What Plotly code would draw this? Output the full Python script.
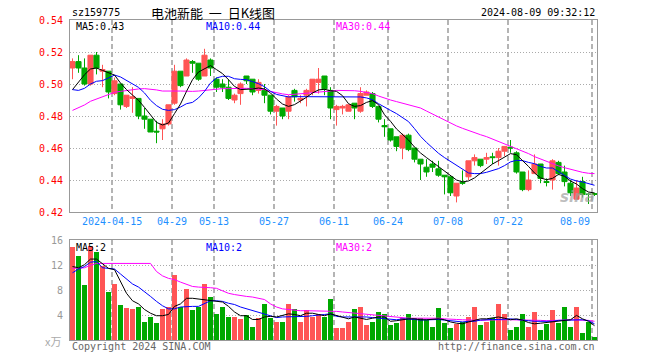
import plotly.graph_objects as go

# ---------------- data ----------------
open_ = [0.510,0.514,0.510,0.500,0.518,0.508,0.508,0.494,0.500,0.486,
         0.491,0.491,0.480,0.478,0.4705,0.472,0.475,0.488,0.508,0.505,
         0.514,0.513,0.505,0.515,0.503,0.500,0.498,0.490,0.494,0.505,
         0.503,0.496,0.496,0.493,0.483,0.485,0.483,0.496,0.490,0.493,
         0.495,0.501,0.505,0.496,0.484,0.485,0.483,0.488,0.483,0.493,
         0.494,0.486,0.474,0.472,0.467,0.460,0.468,0.460,0.453,0.448,
         0.450,0.447,0.443,0.442,0.430,0.4385,0.442,0.452,0.453,0.453,
         0.4545,0.454,0.458,0.4605,0.457,0.445,0.434,0.444,0.450,0.439,
         0.440,0.451,0.445,0.438,0.428,0.439,0.4312,0.4315]
high = [0.516,0.518,0.516,0.518,0.520,0.512,0.508,0.504,0.500,0.493,
        0.498,0.491,0.485,0.478,0.477,0.478,0.487,0.512,0.508,0.516,
        0.515,0.513,0.522,0.516,0.504,0.503,0.503,0.494,0.501,0.505,
        0.503,0.503,0.500,0.493,0.487,0.485,0.493,0.497,0.493,0.497,
        0.503,0.510,0.505,0.498,0.487,0.487,0.487,0.488,0.498,0.496,
        0.495,0.486,0.478,0.472,0.467,0.469,0.469,0.460,0.453,0.453,
        0.452,0.452,0.443,0.442,0.438,0.446,0.452,0.456,0.453,0.457,
        0.457,0.460,0.461,0.465,0.458,0.445,0.446,0.456,0.450,0.441,
        0.453,0.452,0.449,0.440,0.440,0.442,0.432,0.432]
low = [0.503,0.507,0.499,0.499,0.506,0.498,0.491,0.493,0.484,0.485,
       0.482,0.478,0.472,0.470,0.463,0.465,0.474,0.487,0.498,0.505,
       0.507,0.502,0.505,0.505,0.495,0.495,0.490,0.488,0.487,0.500,
       0.493,0.494,0.488,0.481,0.474,0.478,0.478,0.489,0.488,0.486,
       0.493,0.494,0.493,0.478,0.474,0.481,0.483,0.478,0.482,0.493,
       0.485,0.476,0.467,0.464,0.458,0.453,0.458,0.451,0.440,0.442,
       0.445,0.442,0.431,0.430,0.426,0.437,0.440,0.449,0.448,0.450,
       0.450,0.449,0.455,0.457,0.444,0.433,0.433,0.444,0.438,0.436,
       0.434,0.443,0.436,0.430,0.428,0.429,0.425,0.430]
close = [0.514,0.510,0.500,0.518,0.510,0.509,0.495,0.502,0.487,0.493,
         0.492,0.480,0.478,0.470,0.470,0.475,0.487,0.508,0.499,0.515,
         0.513,0.503,0.518,0.510,0.498,0.498,0.491,0.493,0.500,0.502,
         0.495,0.501,0.493,0.483,0.486,0.480,0.492,0.492,0.491,0.496,
         0.503,0.503,0.497,0.485,0.486,0.486,0.487,0.485,0.494,0.495,
         0.486,0.478,0.4733,0.465,0.461,0.468,0.459,0.453,0.450,0.445,
         0.448,0.443,0.442,0.432,0.438,0.438,0.452,0.454,0.449,0.454,
         0.454,0.458,0.461,0.460,0.445,0.434,0.440,0.450,0.441,0.4385,
         0.452,0.444,0.439,0.432,0.435,0.431,0.431,0.431]

ma5 = [0.4965,0.5013,0.5058,0.5094,0.5100,0.5085,0.5071,0.5056,0.5006,0.4965,
       0.4931,0.4898,0.4854,0.4808,0.4760,0.4744,0.4756,0.4815,0.4875,0.4954,
       0.5027,0.5075,0.5094,0.5115,0.5090,0.5065,0.5027,0.4985,0.4965,0.4965,
       0.4969,0.4975,0.4969,0.4944,0.4906,0.4875,0.4860,0.4871,0.4892,0.4917,
       0.4944,0.4963,0.4967,0.4958,0.4954,0.4927,0.4877,0.4860,0.4865,0.4885,
       0.4896,0.4871,0.4808,0.4767,0.4719,0.4683,0.4650,0.4606,0.4569,0.4540,
       0.4512,0.4483,0.4456,0.4425,0.4400,0.4388,0.4394,0.4413,0.4444,0.4473,
       0.4500,0.4521,0.4542,0.4565,0.4558,0.4523,0.4485,0.4444,0.4413,0.4402,
       0.4410,0.4435,0.4423,0.4394,0.4375,0.4346,0.4325,0.4319]
ma10 = [0.4965,0.4960,0.4973,0.5000,0.5017,0.5021,0.5038,0.5056,0.5044,0.5023,
        0.5000,0.4979,0.4944,0.4898,0.4865,0.4842,0.4835,0.4840,0.4856,0.4877,
        0.4885,0.4913,0.4954,0.5006,0.5038,0.5048,0.5048,0.5033,0.5029,0.5027,
        0.5015,0.5002,0.4983,0.4954,0.4935,0.4925,0.4919,0.4921,0.4921,0.4921,
        0.4923,0.4923,0.4923,0.4921,0.4921,0.4919,0.4919,0.4919,0.4919,0.4913,
        0.4902,0.4877,0.4854,0.4835,0.4815,0.4790,0.4765,0.4721,0.4673,0.4635,
        0.4598,0.4567,0.4540,0.4515,0.4492,0.4467,0.4444,0.4440,0.4440,0.4448,
        0.4458,0.4471,0.4490,0.4513,0.4523,0.4521,0.4510,0.4502,0.4485,0.4475,
        0.4475,0.4454,0.4429,0.4406,0.4394,0.4388,0.4379,0.4367]
ma30 = [0.4835,0.4850,0.4869,0.4892,0.4906,0.4921,0.4935,0.4948,0.4954,0.4960,
        0.4965,0.4969,0.4971,0.4969,0.4963,0.4956,0.4954,0.4956,0.4956,0.4954,
        0.4954,0.4956,0.4960,0.4965,0.4969,0.4971,0.4971,0.4973,0.4973,0.4973,
        0.4971,0.4969,0.4965,0.4954,0.4944,0.4938,0.4933,0.4935,0.4938,0.4942,
        0.4946,0.4948,0.4952,0.4956,0.4960,0.4960,0.4960,0.4958,0.4954,0.4948,
        0.4940,0.4925,0.4910,0.4900,0.4890,0.4879,0.4869,0.4860,0.4850,0.4831,
        0.4812,0.4794,0.4775,0.4756,0.4738,0.4723,0.4708,0.4694,0.4683,0.4671,
        0.4656,0.4642,0.4627,0.4613,0.4598,0.4583,0.4565,0.4546,0.4531,0.4513,
        0.4498,0.4488,0.4477,0.4467,0.4456,0.4448,0.4442,0.4440]

volume = [14.8,13.5,8.7,15.0,14.1,11.8,7.7,8.9,5.5,5.0,
          4.9,5.3,2.9,3.6,2.6,4.9,5.3,10.3,5.3,8.1,
          4.7,5.2,9.0,6.9,4.1,5.2,3.7,3.6,3.3,3.9,
          2.1,3.4,5.8,3.4,2.9,2.8,5.8,4.9,2.9,4.7,
          3.6,4.1,3.6,6.5,1.8,1.8,2.8,4.9,5.3,2.3,
          2.8,4.4,4.1,2.3,2.6,3.4,4.1,3.4,3.4,3.1,
          2.0,5.0,2.6,1.8,2.5,2.9,3.7,5.2,2.3,2.9,
          3.4,5.7,4.1,1.5,2.1,4.1,2.1,4.4,1.5,2.5,
          4.7,2.6,5.3,2.1,5.3,1.0,2.8,0.4]
vma5 = [11.8,11.6,12.1,13.0,13.0,12.3,11.5,11.3,9.3,7.5,
        6.3,5.8,4.9,4.3,3.9,3.9,4.1,5.4,5.8,6.7,
        6.7,6.6,6.4,6.4,6.2,6.1,5.4,4.5,3.9,3.9,
        3.3,3.3,3.7,3.8,3.7,3.9,4.2,4.1,3.9,4.3,
        4.3,4.1,3.9,4.2,3.95,3.6,3.4,3.7,3.5,3.3,
        3.5,3.7,3.7,3.0,3.1,3.25,3.4,3.4,3.25,3.25,
        3.3,3.4,3.25,2.9,2.7,2.6,2.9,3.2,3.4,3.4,
        3.5,3.7,3.5,3.25,3.4,3.2,2.8,2.6,2.7,2.8,
        3.0,3.1,3.15,3.25,3.95,3.4,3.0,2.3]
vma10 = [10.8,11.4,11.8,12.5,12.6,11.6,11.5,11.4,10.6,9.8,
         9.0,8.5,7.8,7.0,6.2,5.5,5.0,5.0,5.3,5.4,
         5.4,5.4,5.8,6.3,6.3,6.2,5.9,5.7,5.3,5.0,
         4.7,4.5,4.2,3.9,3.6,3.7,3.7,3.7,3.7,3.8,
         3.9,4.05,4.1,4.2,3.8,3.7,3.7,3.8,3.8,3.7,
         3.6,3.5,3.5,3.4,3.25,3.4,3.4,3.3,3.2,3.25,
         3.3,3.3,3.2,3.1,3.0,2.9,3.0,3.0,3.2,3.3,
         3.3,3.3,3.4,3.4,3.3,3.25,3.1,3.0,3.0,3.0,
         3.0,3.15,3.2,3.25,3.3,3.25,3.1,2.6]
vma30 = [11.5,11.5,11.6,12.0,12.3,12.3,12.3,12.3,12.3,12.3,
         12.3,12.3,12.3,12.3,11.0,10.3,9.9,9.7,9.3,9.0,
         8.6,8.5,8.5,8.4,8.3,7.9,7.5,7.3,7.1,7.0,
         6.9,6.7,6.5,5.8,5.3,5.0,4.9,4.7,4.7,4.7,
         4.7,4.7,4.7,4.7,4.6,4.5,4.4,4.3,4.3,4.2,
         4.05,3.95,3.8,3.7,3.6,3.6,3.5,3.5,3.5,3.5,
         3.6,3.5,3.4,3.4,3.3,3.25,3.2,3.15,3.15,3.2,
         3.25,3.25,3.25,3.25,3.25,3.2,3.2,3.15,3.15,3.1,
         3.1,3.15,3.2,3.25,3.25,3.2,3.15,3.0]

date_labels = ["2024-04-15","04-29","05-13","05-27","06-11","06-24","07-08","07-22","08-09"]
date_index = [7,17,24,34,44,53,63,73,87]
price_ticks = [0.42,0.44,0.46,0.48,0.50,0.52,0.54]
vol_ticks = [4,8,12,16]

# ---------------- styling ----------------
RED = "#ff5555"
GREEN = "#00a800"
MONO = "DejaVu Sans Mono"
CJK = "Noto Sans CJK SC"
GRID = "#aaaaaa"
BORDER = "#999999"

idx = list(range(len(close)))
xr = [-0.4167, -0.4167 + 527/6]
grid_x = [d - 0.4167 for d in date_index]

fig = go.Figure()
fig.add_trace(go.Candlestick(
    x=idx, open=open_, high=high, low=low, close=close,
    increasing=dict(line=dict(color=RED, width=1), fillcolor=RED),
    decreasing=dict(line=dict(color=GREEN, width=1), fillcolor=GREEN),
    whiskerwidth=0, xaxis="x", yaxis="y", hoverinfo="skip"))
for ser, col in [(ma30, "#ff00ff"), (ma10, "#0000ff"), (ma5, "#000000")]:
    fig.add_trace(go.Scatter(x=idx, y=ser, mode="lines",
                             line=dict(color=col, width=1),
                             xaxis="x", yaxis="y", hoverinfo="skip"))

vcolors = [RED if c >= o else GREEN for o, c in zip(open_, close)]
fig.add_trace(go.Bar(x=idx, y=volume, width=0.83, marker=dict(color=vcolors, line=dict(width=0)),
                     xaxis="x2", yaxis="y2", hoverinfo="skip"))
for ser, col in [(vma30, "#ff00ff"), (vma10, "#0000ff"), (vma5, "#000000")]:
    fig.add_trace(go.Scatter(x=idx, y=ser, mode="lines",
                             line=dict(color=col, width=1),
                             xaxis="x2", yaxis="y2", hoverinfo="skip"))

axis_common = dict(showline=True, mirror=True, linecolor=BORDER, linewidth=1,
                   zeroline=False, ticks="", automargin=False)
# page body has an 8px margin, so the figure is offset by (8, 8)
fig.update_layout(
    width=644, height=344,
    margin=dict(l=62, r=55, t=12, b=12),
    paper_bgcolor="white", plot_bgcolor="white",
    showlegend=False,
    boxgap=0.15, boxgroupgap=0,
    bargap=0,
    xaxis=dict(domain=[0, 1], anchor="y", range=xr, tickvals=grid_x,
               showticklabels=False, showgrid=True, gridcolor="#b4b4b4",
               griddash="5px,3px", gridwidth=1.5, rangeslider=dict(visible=False),
               **axis_common),
    yaxis=dict(domain=[0.4, 1], anchor="x", range=[0.42, 0.54],
               tickvals=price_ticks, ticktext=["%.2f" % v for v in price_ticks],
               tickfont=dict(family=MONO, size=10, color="#ff0000"),
               showgrid=True, gridcolor=GRID, griddash="1px,2px", gridwidth=1,
               ticklabelstandoff=4, **axis_common),
    xaxis2=dict(domain=[0, 1], anchor="y2", range=xr, tickvals=grid_x,
                showticklabels=False, showgrid=True, gridcolor="#b4b4b4",
                griddash="5px,3px", gridwidth=1.5, **axis_common),
    yaxis2=dict(domain=[0, 0.3113], anchor="x2", range=[0, 16],
                tickvals=vol_ticks, ticktext=[str(v) for v in vol_ticks],
                tickfont=dict(family=MONO, size=10, color="#999999"),
                showgrid=True, gridcolor=GRID, griddash="1px,2px", gridwidth=1,
                ticklabelstandoff=4, **axis_common),
)

ann = []
def txt(x, y, s, color="#000", size=10, family=MONO, xanchor="left", yanchor="middle", **kw):
    ann.append(dict(x=x, y=y, xref="paper", yref="paper", text=s, showarrow=False,
                    font=dict(family=family, size=size, color=color),
                    xanchor=xanchor, yanchor=yanchor, **kw))

# positions given in page pixels of the reference (plot area 70..597 x 20..340)
W, H = 527.0, 320.0
def px(x):
    return (x - 70) / W
def py(y):
    return (340 - y) / H

txt(px(70), py(12), "sz159775", color="#000")
txt(px(213), py(13), "电池新能&nbsp;&nbsp;一&nbsp;&nbsp;日K线图", color="#000", size=13,
    family=CJK, xanchor="center", borderpad=0)
txt(px(597), py(12), "2024-08-09 09:32:12", color="#000", xanchor="right")

txt(px(74), py(26), "MA5:0.43", color="#000")
txt(px(204), py(26), "MA10:0.44", color="#0000ff")
txt(px(334), py(26), "MA30:0.44", color="#ff00ff")
txt(px(74), py(247), "MA5:2", color="#000")
txt(px(204), py(247), "MA10:2", color="#0000ff")
txt(px(334), py(247), "MA30:2", color="#ff00ff")

for d, lab in zip(date_index, date_labels):
    gx = 70 + 6 * d
    if d == date_index[-1]:
        txt(px(gx), py(221), lab, color="#1e90ff", xanchor="right")
    else:
        txt(px(gx), py(221), lab, color="#1e90ff", xanchor="center")

txt(px(63), py(341), "x万", color="#aaaaaa", xanchor="right", family=CJK, size=11)
txt(px(70), py(346), "Copyright 2024 SINA.COM", color="#666666")
txt(px(597), py(346), "http://finance.sina.com.cn", color="#666666", xanchor="right")
txt(px(597), py(197), "<b><i>sina</i></b>", color="rgba(160,160,160,0.7)", size=15,
    family="DejaVu Sans", xanchor="right")

fig.update_layout(annotations=ann)
fig.write_html("out.html")
